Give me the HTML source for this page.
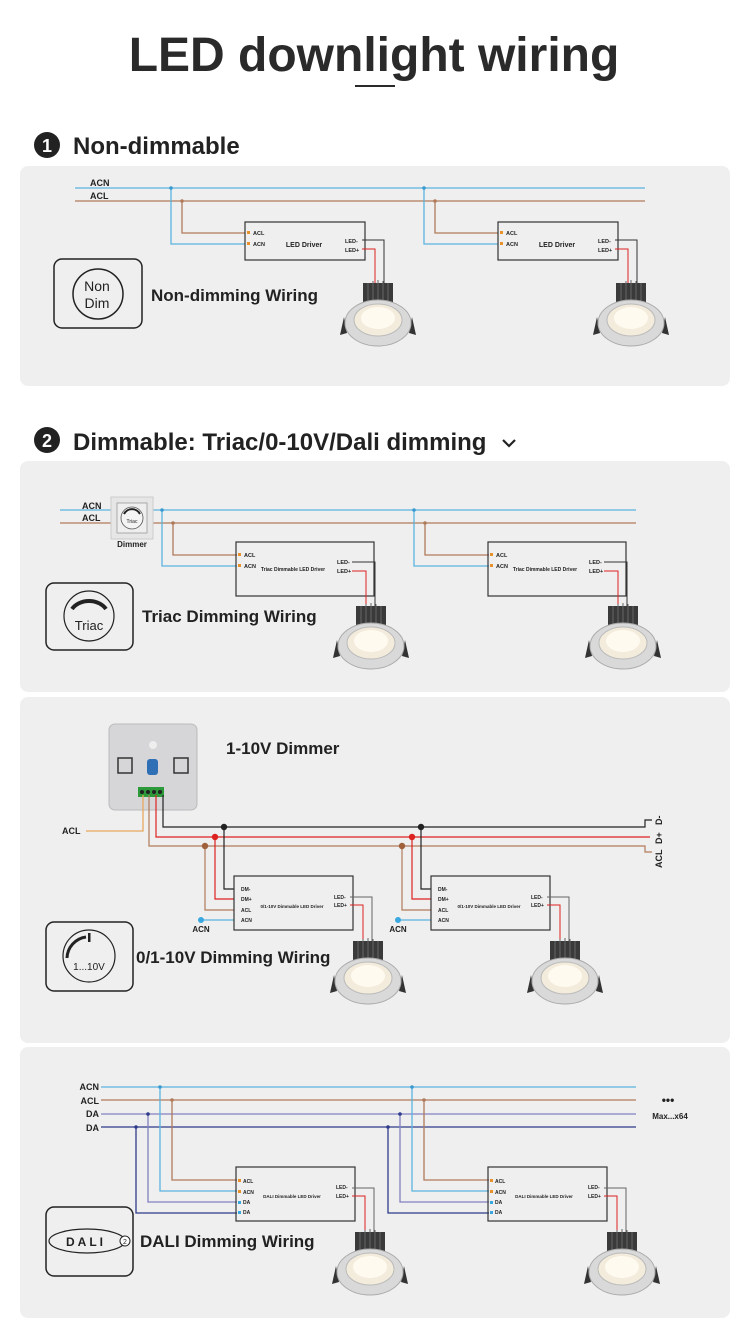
<!DOCTYPE html>
<html><head><meta charset="utf-8"><style>
html,body{margin:0;padding:0;background:#fff;width:750px;height:1342px;overflow:hidden}
text{font-family:"Liberation Sans",sans-serif}
</style></head><body>
<svg width="750" height="1342" viewBox="0 0 750 1342" xmlns="http://www.w3.org/2000/svg">
<defs>
<g id="dl">
  <rect x="-15" y="0" width="30" height="24" fill="#3a3a3a"/>
  <g stroke="#666" stroke-width="1">
    <line x1="-10" y1="0" x2="-10" y2="22"/><line x1="-5" y1="-2" x2="-5" y2="22"/><line x1="0" y1="-3" x2="0" y2="22"/><line x1="5" y1="-2" x2="5" y2="22"/><line x1="10" y1="0" x2="10" y2="22"/>
  </g>
  <path d="M-34 34 L-38 52 L-31 50 Z M34 34 L38 52 L31 50 Z" fill="#333"/>
  <ellipse cx="0" cy="40" rx="33" ry="23" fill="#d9d9d9" stroke="#aaa"/>
  <ellipse cx="0" cy="37" rx="24" ry="16" fill="#f3ecdc" stroke="#bbb"/>
  <ellipse cx="0" cy="35" rx="17" ry="11" fill="#fffaf0"/>
</g>
</defs>
<rect width="750" height="1342" fill="#fff"/>
<text x="374" y="71" font-size="48" font-weight="bold" fill="#2a2a2a" text-anchor="middle">LED downlight wiring</text>
<rect x="355" y="85" width="40" height="2" fill="#2a2a2a"/>

<!-- Section 1 -->
<circle cx="47" cy="145" r="13" fill="#222"/><text x="47" y="152" font-size="18" font-weight="bold" fill="#fff" text-anchor="middle">1</text>
<text x="73" y="154" font-size="24" font-weight="bold" fill="#222">Non-dimmable</text>
<rect x="20" y="166" width="710" height="220" rx="8" fill="#efefef"/>
<g font-size="9" font-weight="bold" fill="#222"><text x="90" y="186">ACN</text><text x="90" y="199">ACL</text></g>
<line x1="75" y1="188" x2="645" y2="188" stroke="#5ab4e0" stroke-width="1.3"/>
<line x1="75" y1="201" x2="645" y2="201" stroke="#b07a5a" stroke-width="1.3"/>
<g id="g1">
<polyline points="171,188 171,244 245,244" fill="none" stroke="#5ab4e0" stroke-width="1.3"/>
<polyline points="182,201 182,233 245,233" fill="none" stroke="#b07a5a" stroke-width="1.3"/>
<circle cx="171" cy="188" r="1.8" fill="#3a9ad0"/><circle cx="182" cy="201" r="1.8" fill="#b07a5a"/>
<rect x="245" y="222" width="120" height="38" fill="none" stroke="#333" stroke-width="1.2"/>
<rect x="247" y="231" width="3" height="3" fill="#e8902a"/><rect x="247" y="242" width="3" height="3" fill="#e8902a"/>
<g font-size="5.5" font-weight="bold" fill="#222"><text x="253" y="235">ACL</text><text x="253" y="246">ACN</text><text x="345" y="243">LED-</text><text x="345" y="252">LED+</text></g>
<text x="304" y="247" font-size="7" font-weight="bold" fill="#222" text-anchor="middle">LED Driver</text>
<polyline points="362,240 384,240 384,300" fill="none" stroke="#333" stroke-width="1"/>
<polyline points="362,249 375,249 375,300" fill="none" stroke="#d22" stroke-width="1"/>
<use href="#dl" x="378" y="283"/>
</g>
<use href="#g1" x="253" y="0"/>
<rect x="54" y="259" width="88" height="69" rx="8" fill="none" stroke="#222" stroke-width="1.5"/>
<circle cx="98" cy="294" r="25" fill="none" stroke="#222" stroke-width="1.5"/>
<text x="97" y="291" font-size="14" fill="#222" text-anchor="middle">Non</text><text x="97" y="308" font-size="14" fill="#222" text-anchor="middle">Dim</text>
<text x="151" y="301" font-size="17" font-weight="bold" fill="#222">Non-dimming Wiring</text>

<!-- Section 2 -->
<circle cx="47" cy="440" r="13" fill="#222"/><text x="47" y="447" font-size="18" font-weight="bold" fill="#fff" text-anchor="middle">2</text>
<text x="73" y="450" font-size="24" font-weight="bold" fill="#222">Dimmable: Triac/0-10V/Dali dimming</text>
<polyline points="503,440 509,446 515,440" fill="none" stroke="#222" stroke-width="2.2"/>

<!-- Triac panel -->
<rect x="20" y="461" width="710" height="231" rx="8" fill="#efefef"/>
<g font-size="9" font-weight="bold" fill="#222"><text x="82" y="509">ACN</text><text x="82" y="521">ACL</text></g>
<line x1="60" y1="510" x2="636" y2="510" stroke="#5ab4e0" stroke-width="1.3"/>
<line x1="60" y1="523" x2="636" y2="523" stroke="#b07a5a" stroke-width="1.3"/>
<rect x="111" y="497" width="42" height="42" fill="#e6e6e6" stroke="#ccc"/>
<rect x="117" y="503" width="30" height="30" fill="#eee" stroke="#999" stroke-width="0.8"/>
<circle cx="132" cy="518" r="11" fill="#f4f4f4" stroke="#555" stroke-width="0.8"/>
<path d="M124 514 A9 9 0 0 1 140 514" fill="none" stroke="#222" stroke-width="2"/>
<text x="132" y="523" font-size="5" fill="#222" text-anchor="middle">Triac</text>
<text x="132" y="547" font-size="8" font-weight="bold" fill="#222" text-anchor="middle">Dimmer</text>
<g id="g2">
<polyline points="162,510 162,566 237,566" fill="none" stroke="#5ab4e0" stroke-width="1.3"/>
<polyline points="173,523 173,555 237,555" fill="none" stroke="#b07a5a" stroke-width="1.3"/>
<circle cx="162" cy="510" r="1.8" fill="#3a9ad0"/><circle cx="173" cy="523" r="1.8" fill="#b07a5a"/>
<rect x="236" y="542" width="138" height="54" fill="none" stroke="#333" stroke-width="1.2"/>
<rect x="238" y="553" width="3" height="3" fill="#e8902a"/><rect x="238" y="564" width="3" height="3" fill="#e8902a"/>
<g font-size="5.5" font-weight="bold" fill="#222"><text x="244" y="557">ACL</text><text x="244" y="568">ACN</text><text x="337" y="564">LED-</text><text x="337" y="573">LED+</text></g>
<text x="293" y="571" font-size="5" font-weight="bold" fill="#222" text-anchor="middle">Triac Dimmable LED Driver</text>
<polyline points="352,562 375,562 375,612" fill="none" stroke="#333" stroke-width="1"/>
<polyline points="352,571 366,571 366,612" fill="none" stroke="#d22" stroke-width="1"/>
<use href="#dl" x="371" y="606"/>
</g>
<use href="#g2" x="252" y="0"/>
<rect x="46" y="583" width="87" height="67" rx="8" fill="none" stroke="#222" stroke-width="1.5"/>
<circle cx="89" cy="616" r="25" fill="none" stroke="#222" stroke-width="1.2"/>
<path d="M72 609 A20 17 0 0 1 106 609" fill="none" stroke="#222" stroke-width="4"/>
<text x="89" y="630" font-size="13" fill="#222" text-anchor="middle">Triac</text>
<text x="142" y="622" font-size="17" font-weight="bold" fill="#222">Triac Dimming Wiring</text>

<!-- 0-10V panel -->
<rect x="20" y="697" width="710" height="346" rx="8" fill="#efefef"/>
<rect x="109" y="724" width="88" height="86" rx="6" fill="#d6d6d8" stroke="#bbb"/>
<rect x="118" y="758" width="14" height="15" fill="none" stroke="#333" stroke-width="1.5"/>
<rect x="174" y="758" width="14" height="15" fill="none" stroke="#333" stroke-width="1.5"/>
<rect x="147" y="759" width="11" height="16" rx="3" fill="#2e6fb5"/>
<circle cx="153" cy="745" r="4" fill="#eee"/>
<rect x="138" y="787" width="26" height="10" fill="#2c9a3a"/>
<g fill="#222"><circle cx="142" cy="792" r="2"/><circle cx="148" cy="792" r="2"/><circle cx="154" cy="792" r="2"/><circle cx="160" cy="792" r="2"/></g>
<text x="226" y="754" font-size="17" font-weight="bold" fill="#222">1-10V Dimmer</text>
<text x="62" y="834" font-size="9" font-weight="bold" fill="#222">ACL</text>
<polyline points="86,831 143,831 143,795" fill="none" stroke="#e8a860" stroke-width="1.3"/>
<polyline points="163,795 163,827 645,827 645,820 652,820" fill="none" stroke="#222" stroke-width="1.2"/>
<polyline points="156,795 156,837 650,837" fill="none" stroke="#d22" stroke-width="1.2"/>
<polyline points="149,795 149,846 645,846 645,852 652,852" fill="none" stroke="#b07a5a" stroke-width="1.2"/>
<g font-size="9" font-weight="bold" fill="#222">
<text transform="translate(662,825) rotate(-90)">D-</text>
<text transform="translate(662,844) rotate(-90)">D+</text>
<text transform="translate(662,868) rotate(-90)">ACL</text>
</g>
<g id="g3">
<polyline points="224,827 224,889 234,889" fill="none" stroke="#222" stroke-width="1.2"/>
<polyline points="215,837 215,899 234,899" fill="none" stroke="#d22" stroke-width="1.2"/>
<polyline points="205,846 205,910 234,910" fill="none" stroke="#b07a5a" stroke-width="1.2"/>
<polyline points="201,920 234,920" fill="none" stroke="#5ab4e0" stroke-width="1.2"/>
<circle cx="224" cy="827" r="3.2" fill="#222"/><circle cx="215" cy="837" r="3.2" fill="#d22"/><circle cx="205" cy="846" r="3.2" fill="#a0603a"/><circle cx="201" cy="920" r="3" fill="#3aa8e0"/>
<text x="201" y="932" font-size="8" font-weight="bold" fill="#222" text-anchor="middle">ACN</text>
<rect x="234" y="876" width="119" height="54" fill="none" stroke="#333" stroke-width="1.2"/>
<g font-size="5" font-weight="bold" fill="#222"><text x="241" y="891">DM-</text><text x="241" y="901">DM+</text><text x="241" y="912">ACL</text><text x="241" y="922">ACN</text><text x="334" y="899">LED-</text><text x="334" y="907">LED+</text></g>
<text x="292" y="908" font-size="4.5" font-weight="bold" fill="#222" text-anchor="middle">0/1-10V Dimmable LED Driver</text>
<polyline points="350,897 372,897 372,945" fill="none" stroke="#666" stroke-width="1"/>
<polyline points="350,905 363,905 363,945" fill="none" stroke="#d22" stroke-width="1"/>
<use href="#dl" x="368" y="941"/>
</g>
<use href="#g3" x="197" y="0"/>
<rect x="46" y="922" width="87" height="69" rx="8" fill="none" stroke="#222" stroke-width="1.5"/>
<circle cx="89" cy="956" r="26" fill="none" stroke="#222" stroke-width="1.2"/>
<path d="M67 958 A22 22 0 0 1 86 937" fill="none" stroke="#222" stroke-width="3"/>
<rect x="88" y="933" width="2.5" height="9" fill="#222"/>
<text x="89" y="970" font-size="10" fill="#222" text-anchor="middle">1...10V</text>
<text x="136" y="963" font-size="17" font-weight="bold" fill="#222">0/1-10V Dimming Wiring</text>

<!-- DALI panel -->
<rect x="20" y="1047" width="710" height="271" rx="8" fill="#efefef"/>
<g font-size="9" font-weight="bold" fill="#222" text-anchor="end"><text x="99" y="1090">ACN</text><text x="99" y="1104">ACL</text><text x="99" y="1117">DA</text><text x="99" y="1131">DA</text></g>
<line x1="101" y1="1087" x2="636" y2="1087" stroke="#5ab4e0" stroke-width="1.3"/>
<line x1="101" y1="1100" x2="636" y2="1100" stroke="#b07a5a" stroke-width="1.3"/>
<line x1="101" y1="1114" x2="636" y2="1114" stroke="#8080c0" stroke-width="1.3"/>
<line x1="101" y1="1127" x2="636" y2="1127" stroke="#2e3a8a" stroke-width="1.3"/>
<text x="668" y="1104" font-size="12" font-weight="bold" fill="#222" text-anchor="middle">•••</text>
<text x="670" y="1119" font-size="8" font-weight="bold" fill="#222" text-anchor="middle">Max...x64</text>
<g id="g4">
<polyline points="160,1087 160,1191 237,1191" fill="none" stroke="#5ab4e0" stroke-width="1.3"/>
<polyline points="172,1100 172,1180 237,1180" fill="none" stroke="#b07a5a" stroke-width="1.3"/>
<polyline points="148,1114 148,1202 237,1202" fill="none" stroke="#8080c0" stroke-width="1.3"/>
<polyline points="136,1127 136,1213 237,1213" fill="none" stroke="#2e3a8a" stroke-width="1.3"/>
<circle cx="160" cy="1087" r="1.8" fill="#3a9ad0"/><circle cx="172" cy="1100" r="1.8" fill="#b07a5a"/><circle cx="148" cy="1114" r="1.8" fill="#2e3a8a"/><circle cx="136" cy="1127" r="1.8" fill="#2e3a8a"/>
<rect x="236" y="1167" width="119" height="54" fill="none" stroke="#333" stroke-width="1.2"/>
<rect x="238" y="1179" width="3" height="3" fill="#e8902a"/><rect x="238" y="1190" width="3" height="3" fill="#e8902a"/><rect x="238" y="1201" width="3" height="3" fill="#3aa8e0"/><rect x="238" y="1211" width="3" height="3" fill="#3aa8e0"/>
<g font-size="5" font-weight="bold" fill="#222"><text x="243" y="1183">ACL</text><text x="243" y="1194">ACN</text><text x="243" y="1204">DA</text><text x="243" y="1214">DA</text><text x="336" y="1189">LED-</text><text x="336" y="1198">LED+</text></g>
<text x="292" y="1198" font-size="4.5" font-weight="bold" fill="#222" text-anchor="middle">DALI Dimmable LED Driver</text>
<polyline points="352,1188 374,1188 374,1236" fill="none" stroke="#666" stroke-width="1"/>
<polyline points="352,1196 365,1196 365,1236" fill="none" stroke="#d22" stroke-width="1"/>
<use href="#dl" x="370" y="1232"/>
</g>
<use href="#g4" x="252" y="0"/>
<rect x="46" y="1207" width="87" height="69" rx="8" fill="none" stroke="#222" stroke-width="1.5"/>
<ellipse cx="87" cy="1241" rx="38" ry="12" fill="none" stroke="#222" stroke-width="1.2"/>
<text x="86" y="1246" font-size="12" font-weight="bold" fill="#222" text-anchor="middle" letter-spacing="3">DALI</text>
<circle cx="125" cy="1241" r="5" fill="#fff" stroke="#222"/><text x="125" y="1244" font-size="7" fill="#222" text-anchor="middle">2</text>
<text x="140" y="1247" font-size="17" font-weight="bold" fill="#222">DALI Dimming Wiring</text>
</svg>
</body></html>
